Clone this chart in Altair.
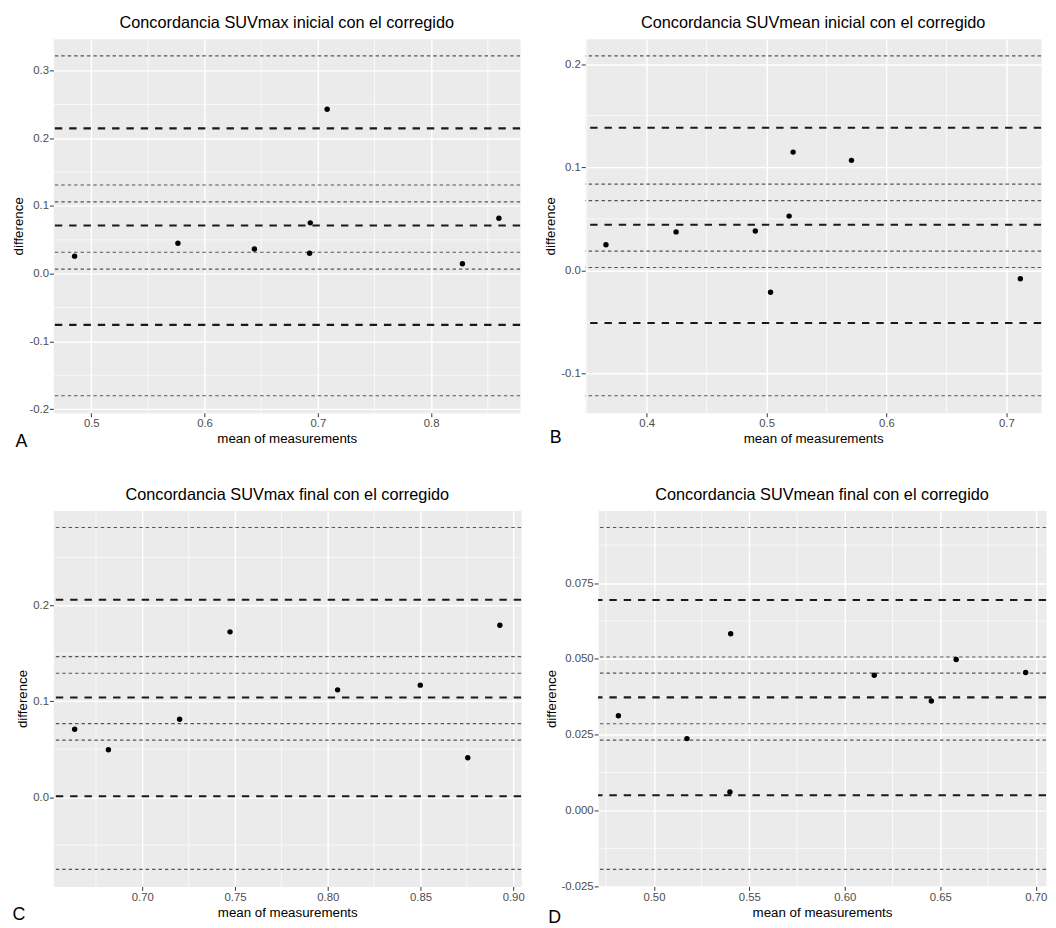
import altair as alt
import pandas as pd

FONT = "Liberation Sans"

# ---- Panel A: SUVmax inicial ----
a_title = "Concordancia SUVmax inicial con el corregido"
a_x = [0.4853, 0.5765, 0.6440, 0.6933, 0.6927, 0.7082, 0.8276, 0.8598]
a_y = [0.0259, 0.0449, 0.0366, 0.0751, 0.0302, 0.2429, 0.0146, 0.0820]
a_dashed = [0.2146, 0.0712, -0.0756]
a_dotted = [0.3218, 0.131, 0.106, 0.0317, 0.0068, -0.1803]
a_xticks = [0.5, 0.6, 0.7, 0.8]
a_yticks = [-0.2, -0.1, 0.0, 0.1, 0.2, 0.3]
a_xminor = [0.55, 0.65, 0.75, 0.85]
a_yminor = [-0.15, -0.05, 0.05, 0.15, 0.25]

# ---- Panel B: SUVmean inicial ----
b_title = "Concordancia SUVmean inicial con el corregido"
b_x = [0.3660, 0.4245, 0.4906, 0.5033, 0.5188, 0.5221, 0.5708, 0.7117]
b_y = [0.0249, 0.0374, 0.0383, -0.0211, 0.0527, 0.1147, 0.1067, -0.0080]
b_dashed = [0.1383, 0.0444, -0.0508]
b_dotted = [0.208, 0.0837, 0.0677, 0.0188, 0.0029, -0.1214]
b_xticks = [0.4, 0.5, 0.6, 0.7]
b_yticks = [-0.1, 0.0, 0.1, 0.2]
b_xminor = [0.35, 0.45, 0.55, 0.65]
b_yminor = [-0.05, 0.05, 0.15]

# ---- Panel C: SUVmax final ----
c_title = "Concordancia SUVmax final con el corregido"
c_x = [0.6635, 0.6817, 0.7201, 0.7473, 0.8053, 0.8499, 0.8755, 0.8928]
c_y = [0.0708, 0.0494, 0.0812, 0.1724, 0.1119, 0.1168, 0.0411, 0.1793]
c_dashed = [0.2059, 0.1040, 0.0010]
c_dotted = [0.2812, 0.1465, 0.1292, 0.0767, 0.0594, -0.0753]
c_xticks = [0.70, 0.75, 0.80, 0.85, 0.90]
c_yticks = [0.0, 0.1, 0.2]
c_xminor = [0.675, 0.725, 0.775, 0.825, 0.875]
c_yminor = [-0.05, 0.05, 0.15, 0.25]

# ---- Panel D: SUVmean final ----
d_title = "Concordancia SUVmean final con el corregido"
d_x = [0.4814, 0.5173, 0.5402, 0.5398, 0.6154, 0.6453, 0.6583, 0.6947]
d_y = [0.03125, 0.0237, 0.0583, 0.0061, 0.0446, 0.0361, 0.0498, 0.0455]
d_dashed = [0.0694, 0.0373, 0.0050]
d_dotted = [0.0933, 0.0506, 0.0453, 0.0286, 0.0232, -0.0194]
d_xticks = [0.50, 0.55, 0.60, 0.65, 0.70]
d_yticks = [-0.025, 0.0, 0.025, 0.050, 0.075]
d_xminor = [0.475, 0.525, 0.575, 0.625, 0.675]
d_yminor = [-0.0125, 0.0125, 0.0375, 0.0625, 0.0875]

HYPHEN = "replace(datum.label, '\u2212', '-')"


def panel(title, xs, ys, dashed, dotted, xt, yt, xminor, yminor,
          xfmt, yfmt, letter, w, h, lx, ly):
    ally = list(ys) + list(dashed) + list(dotted)
    x0, x1 = min(xs), max(xs)
    ex = (x1 - x0) * 0.05
    y0, y1 = min(ally), max(ally)
    ey = (y1 - y0) * 0.05
    xsc = alt.Scale(domain=[x0 - ex, x1 + ex], nice=False, zero=False)
    ysc = alt.Scale(domain=[y0 - ey, y1 + ey], nice=False, zero=False)
    xaxis = alt.Axis(values=xt, format=xfmt, title="mean of measurements")
    yaxis = alt.Axis(values=yt, format=yfmt, title="difference", labelExpr=HYPHEN)

    minor_x = alt.Chart(pd.DataFrame({"v": xminor})).mark_rule(
        color="white", strokeWidth=0.7
    ).encode(x=alt.X("v:Q", scale=xsc, axis=xaxis))
    minor_y = alt.Chart(pd.DataFrame({"v": yminor})).mark_rule(
        color="white", strokeWidth=0.7
    ).encode(y=alt.Y("v:Q", scale=ysc, axis=yaxis))
    dot_l = alt.Chart(pd.DataFrame({"v": dotted})).mark_rule(
        color="#555555", strokeWidth=1.15, strokeDash=[3.5, 3]
    ).encode(y=alt.Y("v:Q", scale=ysc, axis=yaxis))
    dash_l = alt.Chart(pd.DataFrame({"v": dashed})).mark_rule(
        color="#1a1a1a", strokeWidth=2.1, strokeDash=[7.5, 7]
    ).encode(y=alt.Y("v:Q", scale=ysc, axis=yaxis))
    pts = alt.Chart(pd.DataFrame({"x": xs, "y": ys})).mark_circle(
        color="black", size=30, opacity=1
    ).encode(
        x=alt.X("x:Q", scale=xsc, axis=xaxis),
        y=alt.Y("y:Q", scale=ysc, axis=yaxis),
    )
    lab = alt.Chart(pd.DataFrame({"t": [letter]})).mark_text(
        font=FONT, fontSize=18, align="center", baseline="alphabetic", color="black"
    ).encode(x=alt.value(lx), y=alt.value(h + ly), text="t:N")
    ttl = alt.Chart(pd.DataFrame({"t": [title]})).mark_text(
        font=FONT, fontSize=16.5, align="center", baseline="middle", color="black"
    ).encode(x=alt.value(w / 2), y=alt.value(-16), text="t:N")

    return alt.layer(minor_x, minor_y, dot_l, dash_l, pts, lab, ttl).properties(
        width=w, height=h,
    )


A = panel(a_title, a_x, a_y, a_dashed, a_dotted, a_xticks, a_yticks, a_xminor, a_yminor,
          ".1f", ".1f", "A", 473, 379, -32.5, 35)
B = panel(b_title, b_x, b_y, b_dashed, b_dotted, b_xticks, b_yticks, b_xminor, b_yminor,
          ".1f", ".1f", "B", 462, 379, -30, 31)
C = panel(c_title, c_x, c_y, c_dashed, c_dotted, c_xticks, c_yticks, c_xminor, c_yminor,
          ".2f", ".1f", "C", 474, 381, -35, 34)
D = panel(d_title, d_x, d_y, d_dashed, d_dotted, d_xticks, d_yticks, d_xminor, d_yminor,
          ".2f", ".3f", "D", 454, 381, -44, 37)

chart = alt.concat(A, B, C, D, columns=2, align="none",
                   spacing={"row": 34, "column": 18}).properties(
    padding={"left": 3, "top": 0, "right": 0, "bottom": 0}
).configure_view(
    fill="#EBEBEB", stroke="transparent"
).configure_axis(
    labelFont=FONT, labelFontSize=11.5, labelColor="#4D4D4D",
    titleFont=FONT, titleFontSize=13.5, titleFontWeight="normal", titleColor="black",
    tickColor="#333333", tickSize=4, tickWidth=1, domain=False,
    grid=True, gridColor="white", gridWidth=1.4,
    labelPadding=1, titlePadding=3,
)

chart.save("out.html", embed_options={"renderer": "svg", "actions": False})
